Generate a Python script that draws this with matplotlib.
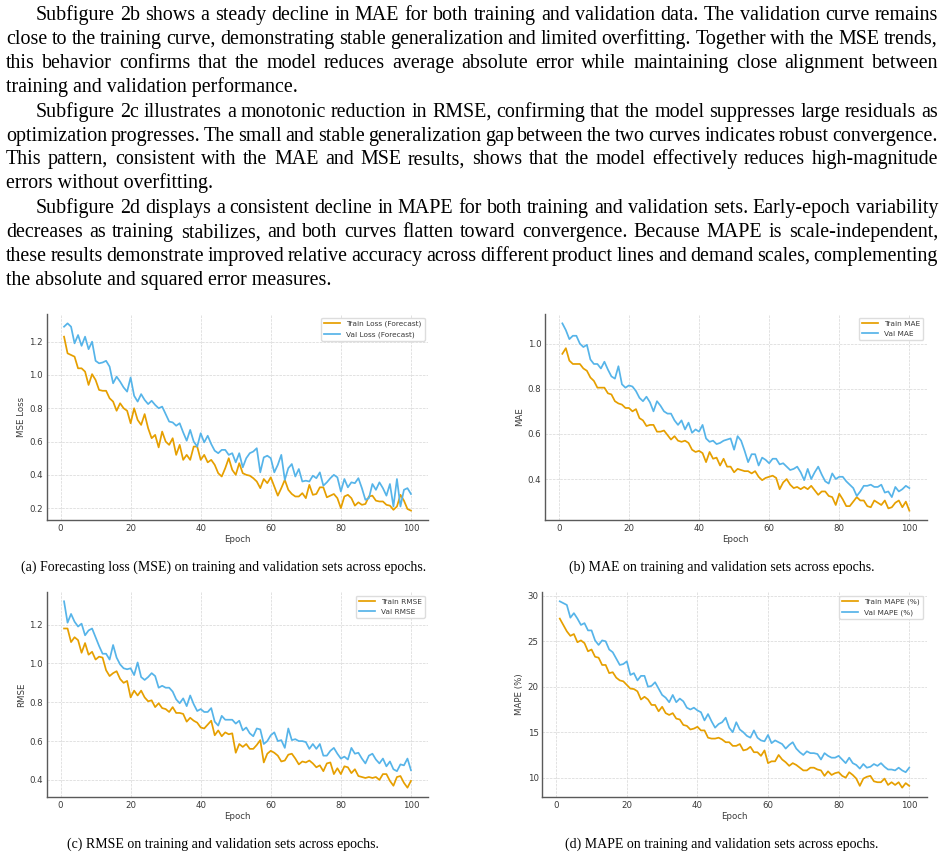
import matplotlib
matplotlib.use("Agg")
import matplotlib.pyplot as plt
from matplotlib.ticker import MultipleLocator
import numpy as np

# ---------------- data ----------------
epochs = list(range(1, 101))

train_mse = [1.23, 1.13, 1.12, 1.11, 1.04, 1.04, 1.02, 0.94, 1.005, 0.97,
             0.91, 0.905, 0.905, 0.86, 0.84, 0.785, 0.83, 0.80, 0.785, 0.71,
             0.80, 0.73, 0.70, 0.765, 0.68, 0.62, 0.64, 0.565, 0.66, 0.60,
             0.58, 0.62, 0.52, 0.58, 0.49, 0.52, 0.49, 0.57, 0.57, 0.49,
             0.52, 0.475, 0.49, 0.46, 0.41, 0.39, 0.44, 0.50, 0.43, 0.40,
             0.47, 0.41, 0.40, 0.395, 0.38, 0.36, 0.32, 0.375, 0.35, 0.385,
             0.33, 0.275, 0.32, 0.37, 0.31, 0.285, 0.27, 0.27, 0.29, 0.26,
             0.34, 0.28, 0.285, 0.325, 0.325, 0.265, 0.275, 0.285, 0.26, 0.20,
             0.27, 0.28, 0.26, 0.215, 0.235, 0.22, 0.225, 0.27, 0.275, 0.245,
             0.24, 0.24, 0.22, 0.215, 0.19, 0.21, 0.28, 0.245, 0.195, 0.185]
val_mse = [1.29, 1.31, 1.29, 1.19, 1.24, 1.175, 1.23, 1.155, 1.20, 1.085,
           1.07, 1.075, 1.085, 1.05, 0.95, 0.99, 0.96, 0.925, 0.90, 0.985,
           0.875, 0.84, 0.885, 0.85, 0.825, 0.845, 0.82, 0.80, 0.81, 0.765,
           0.72, 0.715, 0.695, 0.71, 0.655, 0.605, 0.67, 0.60, 0.57, 0.65,
           0.595, 0.635, 0.585, 0.545, 0.53, 0.55, 0.55, 0.52, 0.53, 0.475,
           0.53, 0.445, 0.50, 0.53, 0.54, 0.56, 0.415, 0.505, 0.515, 0.50,
           0.415, 0.46, 0.52, 0.37, 0.44, 0.465, 0.39, 0.435, 0.36, 0.365,
           0.36, 0.395, 0.38, 0.415, 0.335, 0.355, 0.38, 0.40, 0.385, 0.30,
           0.375, 0.325, 0.355, 0.35, 0.38, 0.32, 0.25, 0.26, 0.345, 0.31,
           0.355, 0.32, 0.275, 0.345, 0.21, 0.375, 0.21, 0.31, 0.32, 0.285]

train_mae = [0.955, 0.98, 0.925, 0.91, 0.91, 0.91, 0.89, 0.88, 0.85, 0.835,
             0.805, 0.805, 0.805, 0.78, 0.775, 0.745, 0.735, 0.73, 0.715, 0.715,
             0.70, 0.71, 0.67, 0.66, 0.635, 0.64, 0.64, 0.61, 0.61, 0.615,
             0.595, 0.575, 0.59, 0.57, 0.565, 0.57, 0.56, 0.53, 0.52, 0.525,
             0.515, 0.475, 0.52, 0.49, 0.495, 0.46, 0.49, 0.455, 0.455, 0.43,
             0.445, 0.44, 0.435, 0.435, 0.425, 0.435, 0.41, 0.395, 0.405, 0.41,
             0.415, 0.405, 0.355, 0.385, 0.40, 0.375, 0.36, 0.365, 0.355, 0.365,
             0.355, 0.37, 0.35, 0.33, 0.345, 0.345, 0.325, 0.32, 0.285, 0.335,
             0.31, 0.28, 0.28, 0.30, 0.32, 0.305, 0.305, 0.28, 0.275, 0.305,
             0.295, 0.285, 0.305, 0.27, 0.275, 0.295, 0.305, 0.275, 0.30, 0.26]
val_mae = [1.09, 1.06, 1.02, 1.035, 1.035, 1.00, 0.985, 0.995, 0.93, 0.91,
           0.91, 0.89, 0.92, 0.885, 0.855, 0.845, 0.90, 0.82, 0.805, 0.815,
           0.81, 0.79, 0.76, 0.745, 0.765, 0.74, 0.70, 0.745, 0.725, 0.70,
           0.69, 0.69, 0.66, 0.64, 0.66, 0.62, 0.65, 0.605, 0.62, 0.61,
           0.64, 0.58, 0.565, 0.57, 0.555, 0.56, 0.57, 0.575, 0.58, 0.53,
           0.59, 0.57, 0.525, 0.475, 0.51, 0.51, 0.46, 0.495, 0.485, 0.47,
           0.49, 0.49, 0.465, 0.47, 0.455, 0.44, 0.445, 0.455, 0.43, 0.395,
           0.445, 0.40, 0.43, 0.455, 0.42, 0.39, 0.38, 0.425, 0.40, 0.41,
           0.41, 0.39, 0.375, 0.36, 0.325, 0.345, 0.37, 0.37, 0.375, 0.365,
           0.365, 0.375, 0.34, 0.345, 0.32, 0.365, 0.345, 0.355, 0.37, 0.36]

train_rmse = [1.18, 1.18, 1.11, 1.135, 1.12, 1.055, 1.105, 1.045, 1.06, 1.02,
              1.035, 1.03, 0.965, 0.935, 0.95, 0.96, 0.92, 0.90, 0.91, 0.825,
              0.86, 0.835, 0.86, 0.825, 0.805, 0.81, 0.775, 0.795, 0.77, 0.765,
              0.75, 0.775, 0.745, 0.745, 0.74, 0.70, 0.72, 0.705, 0.695, 0.67,
              0.665, 0.685, 0.705, 0.63, 0.655, 0.625, 0.645, 0.635, 0.64, 0.54,
              0.585, 0.57, 0.585, 0.56, 0.56, 0.58, 0.605, 0.49, 0.535, 0.55,
              0.54, 0.525, 0.495, 0.50, 0.53, 0.535, 0.51, 0.48, 0.495, 0.49,
              0.50, 0.485, 0.465, 0.475, 0.445, 0.485, 0.49, 0.43, 0.46, 0.43,
              0.47, 0.465, 0.435, 0.455, 0.42, 0.415, 0.41, 0.415, 0.41, 0.415,
              0.40, 0.43, 0.43, 0.395, 0.37, 0.415, 0.42, 0.385, 0.36, 0.395]
val_rmse = [1.32, 1.21, 1.255, 1.215, 1.19, 1.205, 1.145, 1.17, 1.18, 1.135,
            1.09, 1.05, 1.05, 1.02, 1.095, 1.03, 0.995, 0.975, 0.97, 0.975,
            0.94, 1.005, 0.93, 0.915, 0.93, 0.95, 0.935, 0.875, 0.885, 0.875,
            0.875, 0.855, 0.815, 0.795, 0.82, 0.78, 0.835, 0.79, 0.755, 0.765,
            0.75, 0.75, 0.77, 0.70, 0.68, 0.73, 0.71, 0.71, 0.71, 0.69,
            0.705, 0.655, 0.67, 0.64, 0.625, 0.665, 0.66, 0.585, 0.60, 0.63,
            0.645, 0.60, 0.605, 0.565, 0.665, 0.605, 0.61, 0.60, 0.60, 0.595,
            0.56, 0.585, 0.56, 0.585, 0.525, 0.525, 0.55, 0.565, 0.535, 0.51,
            0.52, 0.505, 0.565, 0.535, 0.54, 0.51, 0.485, 0.525, 0.535, 0.505,
            0.485, 0.51, 0.47, 0.495, 0.455, 0.445, 0.48, 0.475, 0.51, 0.45]

train_mape = [27.5, 26.8, 26.1, 25.6, 25.8, 24.9, 25.1, 24.8, 23.9, 24.1,
              23.3, 23.2, 22.4, 22.4, 21.5, 21.6, 21.0, 20.7, 20.6, 20.2,
              19.8, 19.75, 19.5, 18.6, 18.9, 18.6, 18.0, 18.0, 17.3, 17.8,
              17.1, 16.9, 17.1, 16.5, 16.4, 15.8, 15.7, 15.3, 15.4, 15.6,
              15.2, 15.2, 14.4, 14.3, 14.3, 14.4, 14.2, 13.9, 13.9, 13.5,
              13.5, 13.7, 13.0, 13.1, 13.4, 12.8, 12.8, 12.4, 13.0, 11.6,
              11.8, 11.8, 12.5, 12.0, 11.7, 11.3, 11.6, 11.4, 11.1, 10.8,
              10.8, 11.1, 11.1, 10.9, 10.8, 10.2, 10.7, 10.3, 10.5, 10.6,
              10.2, 10.0, 10.6, 10.3, 9.9, 9.1, 9.9, 10.1, 10.2, 9.6,
              9.5, 9.5, 9.9, 9.2, 9.5, 9.2, 9.5, 8.9, 9.4, 9.1]
val_mape = [29.4, 29.2, 29.0, 27.6, 28.1, 27.5, 26.8, 27.0, 26.2, 26.2,
            25.1, 24.6, 25.1, 25.0, 24.1, 23.8, 23.1, 22.4, 22.5, 22.8,
            21.3, 21.5, 20.7, 21.2, 21.2, 20.0, 20.1, 20.5, 19.8, 19.1,
            18.8, 18.3, 19.1, 18.3, 18.7, 18.4, 17.7, 17.5, 17.7, 17.4,
            17.2, 16.3, 17.0, 16.2, 15.5, 15.9, 16.1, 16.6, 15.5, 15.0,
            16.1, 15.3, 15.0, 14.6, 14.4, 15.2, 14.4, 14.1, 14.0, 14.7,
            13.8, 14.1, 13.9, 13.7, 13.2, 13.6, 13.9, 13.2, 12.8, 12.5,
            12.9, 12.7, 12.7, 12.6, 12.0, 12.7, 12.4, 12.2, 12.2, 12.4,
            12.0, 11.6, 12.2, 11.6, 11.4, 11.0, 11.5, 11.1, 11.2, 11.5,
            11.3, 11.6, 11.2, 10.9, 10.9, 10.8, 11.1, 10.8, 10.6, 11.1]

panel_ylabels = ["MSE Loss", "MAE", "RMSE", "MAPE (%)"]
panel_legends = [("Train Loss (Forecast)", "Val Loss (Forecast)"),
                 ("Train MAE", "Val MAE"),
                 ("Train RMSE", "Val RMSE"),
                 ("Train MAPE (%)", "Val MAPE (%)")]
captions = ["(a) Forecasting loss (MSE) on training and validation sets across epochs.",
            "(b) MAE on training and validation sets across epochs.",
            "(c) RMSE on training and validation sets across epochs.",
            "(d) MAPE on training and validation sets across epochs."]

paragraph_lines = [
    ("Subfigure 2b shows a steady decline in MAE for both training and validation data. The validation curve remains", "first"),
    ("close to the training curve, demonstrating stable generalization and limited overfitting. Together with the MSE trends,", "mid"),
    ("this behavior confirms that the model reduces average absolute error while maintaining close alignment between", "mid"),
    ("training and validation performance.", "last"),
    ("Subfigure 2c illustrates a monotonic reduction in RMSE, confirming that the model suppresses large residuals as", "first"),
    ("optimization progresses. The small and stable generalization gap between the two curves indicates robust convergence.", "mid"),
    ("This pattern, consistent with the MAE and MSE results, shows that the model effectively reduces high-magnitude", "mid"),
    ("errors without overfitting.", "last"),
    ("Subfigure 2d displays a consistent decline in MAPE for both training and validation sets. Early-epoch variability", "first"),
    ("decreases as training stabilizes, and both curves flatten toward convergence.  Because MAPE is scale-independent,", "mid"),
    ("these results demonstrate improved relative accuracy across different product lines and demand scales, complementing", "mid"),
    ("the absolute and squared error measures.", "last"),
]

# ---------------- layout ----------------
W, H = 945, 858
ORANGE = "#E69F00"
BLUE = "#56B4E9"
SERIF = "Liberation Serif"

fig = plt.figure(figsize=(W / 100, H / 100), dpi=100)
fig.patch.set_facecolor("white")
renderer = fig.canvas.get_renderer()


def fx(x):
    return x / W


def fy(y):
    return 1 - y / H


def ink_width(s, size, family):
    t = fig.text(0, 0, s, fontsize=size, family=family)
    w = t.get_window_extent(renderer=renderer).width
    t.remove()
    return w


def advance_width(s, size, family):
    # width including side bearings, measured between two bars
    return ink_width("|" + s + "|", size, family) - ink_width("||", size, family)


# ---- paragraph text (justified) ----
body_size = 14.45
baselines = [20, 44, 68, 91.7, 116.7, 140.7, 164.3, 188.3, 213.3, 237.3, 261, 285]
left_x, indent_x, right_x = 6, 36, 938
for (line, kind), yb in zip(paragraph_lines, baselines):
    x0 = indent_x if kind == "first" else left_x
    if kind == "last":
        fig.text(fx(x0), fy(yb), line, fontsize=body_size, family=SERIF,
                 ha="left", va="baseline", color="black")
        continue
    words = line.split()
    size = body_size
    widths = [advance_width(w, size, SERIF) for w in words]
    gap = (right_x - x0 - sum(widths)) / (len(words) - 1)
    while gap < 0.17 * size * 100 / 72:
        size -= 0.1
        widths = [advance_width(w, size, SERIF) for w in words]
        gap = (right_x - x0 - sum(widths)) / (len(words) - 1)
    x = x0
    for w, wd in zip(words, widths):
        fig.text(fx(x), fy(yb), w, fontsize=size, family=SERIF,
                 ha="left", va="baseline", color="black")
        x += wd + gap

# ---- plots ----
boxes = [(46.7, 314, 428.3, 520), (545, 314, 926.7, 520),
         (46.7, 592, 428.3, 797), (542.3, 592, 926.7, 797)]
series = [(train_mse, val_mse), (train_mae, val_mae),
          (train_rmse, val_rmse), (train_mape, val_mape)]
ysteps = [0.2, 0.2, 0.2, 5]
cap_pos = [(223.4, 571), (721.5, 571), (222.7, 848), (721.3, 848)]

TICK = 6.2
TXT = "#3a3a3a"
for i, ((l, t, r, b), (tr, va)) in enumerate(zip(boxes, series)):
    ax = fig.add_axes([fx(l), fy(b), (r - l) / W, (b - t) / H])
    ax.plot(epochs, tr, color=ORANGE, lw=1.25, label=panel_legends[i][0])
    ax.plot(epochs, va, color=BLUE, lw=1.25, label=panel_legends[i][1])
    ax.grid(True, ls="--", lw=0.5, color="#d6d6d6")
    ax.set_axisbelow(True)
    for s in ("top", "right"):
        ax.spines[s].set_visible(False)
    for s in ("left", "bottom"):
        ax.spines[s].set_color("#5a5a5a")
        ax.spines[s].set_linewidth(1.0)
    ax.tick_params(length=0, labelsize=TICK, labelcolor=TXT, pad=2.6)
    ax.xaxis.set_major_locator(MultipleLocator(20))
    ax.yaxis.set_major_locator(MultipleLocator(ysteps[i]))
    ax.set_xlabel("Epoch", fontsize=TICK, color=TXT, labelpad=2.0)
    ax.set_ylabel(panel_ylabels[i], fontsize=TICK, color=TXT, labelpad=2.5)
    leg = ax.legend(loc="upper right", fontsize=5.3, frameon=True,
                    fancybox=True, framealpha=1.0, edgecolor="#dddddd",
                    handlelength=2.2)
    for txt in leg.get_texts():
        txt.set_color(TXT)
    cx, cy = cap_pos[i]
    fig.text(fx(cx), fy(cy), captions[i], fontsize=10, family=SERIF,
             ha="center", va="baseline", color="black")

fig.savefig("out.png", dpi=100, facecolor="white")
